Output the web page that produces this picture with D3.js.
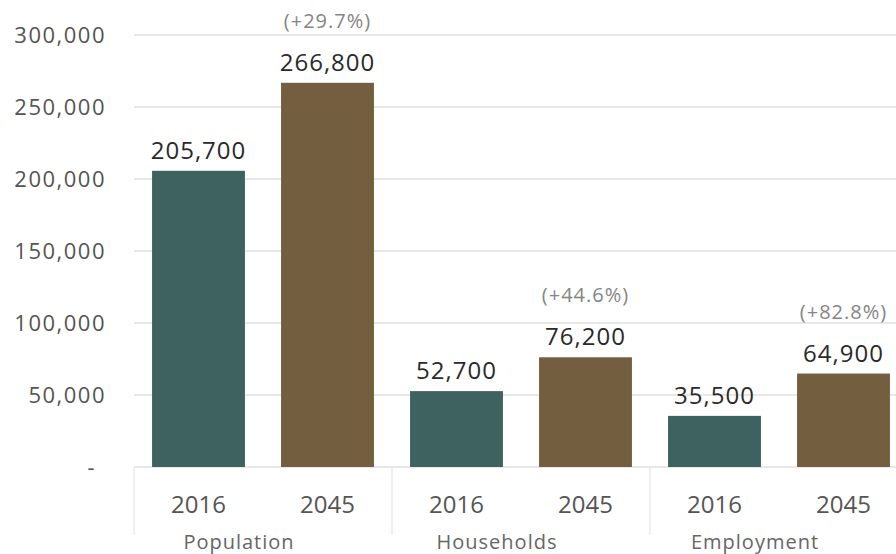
<!DOCTYPE html>
<html>
<head>
<meta charset="utf-8">
<script src="https://cdn.jsdelivr.net/npm/d3@7"></script>
<style>
  body { margin: 0; background: #fff; }
  text { font-family: "Open Sans", sans-serif; }
</style>
</head>
<body>
<div id="chart"></div>
<script>
// data
var categories = ["Population", "Households", "Employment"];
var years = ["2016", "2045"];
var values2016 = [205700, 52700, 35500];
var values2045 = [266800, 76200, 64900];
var changes = ["(+29.7%)", "(+44.6%)", "(+82.8%)"];
var yTicks = [0, 50000, 100000, 150000, 200000, 250000, 300000];

var W = 896, H = 554;
var left = 134, top0 = 35, bottom0 = 467;

var svg = d3.select("#chart").append("svg")
  .attr("width", W)
  .attr("height", H);

var y = d3.scaleLinear().domain([0, 300000]).range([bottom0, top0]);
var x0 = d3.scaleBand().domain(categories).range([left, left + 258 * 3]);
var x1 = d3.scaleBand().domain(years).range([0, x0.bandwidth()]).paddingInner(0.28).paddingOuter(0.14);
var color = d3.scaleOrdinal().domain(years).range(["#3d625f", "#735f3f"]);
var fmt = d3.format(",");

// gridlines
svg.append("g")
  .selectAll("line")
  .data(yTicks)
  .enter().append("line")
  .attr("x1", left).attr("x2", W)
  .attr("y1", d => y(d)).attr("y2", d => y(d))
  .style("stroke", "#e0e0e0")
  .style("stroke-width", 1.5);

// y labels
svg.append("g")
  .selectAll("text")
  .data(yTicks)
  .enter().append("text")
  .attr("x", d => d === 0 ? 96 : 106)
  .attr("y", d => y(d) + 8)
  .attr("text-anchor", "end")
  .style("font-size", "22px")
  .style("letter-spacing", "1.5px")
  .style("fill", "#555")
  .text(d => d === 0 ? "-" : fmt(d));

// group separators
svg.append("g")
  .selectAll("line")
  .data(categories)
  .enter().append("line")
  .attr("x1", d => x0(d)).attr("x2", d => x0(d))
  .attr("y1", bottom0).attr("y2", 535)
  .style("stroke", "#e6e6e6")
  .style("stroke-width", 1.2);

var rows = [];
categories.forEach(function(c, i) {
  rows.push({cat: c, year: "2016", value: values2016[i]});
  rows.push({cat: c, year: "2045", value: values2045[i], change: changes[i]});
});

var g = svg.append("g");
g.selectAll("rect")
  .data(rows)
  .enter().append("rect")
  .attr("x", d => x0(d.cat) + x1(d.year))
  .attr("width", x1.bandwidth())
  .attr("y", d => y(d.value))
  .attr("height", d => y(0) - y(d.value))
  .style("fill", d => color(d.year));

g.selectAll("text.val")
  .data(rows)
  .enter().append("text")
  .attr("class", "val")
  .attr("x", d => x0(d.cat) + x1(d.year) + x1.bandwidth() / 2)
  .attr("y", d => y(d.value) - 12)
  .attr("text-anchor", "middle")
  .style("font-size", "24px")
  .style("font-weight", 500)
  .style("letter-spacing", "1px")
  .style("fill", "#2a2a2a")
  .text(d => fmt(d.value));

g.selectAll("text.chg")
  .data(rows.filter(d => d.change))
  .enter().append("text")
  .attr("class", "chg")
  .attr("x", d => x0(d.cat) + x1(d.year) + x1.bandwidth() / 2)
  .attr("y", d => y(d.value) - 55)
  .attr("text-anchor", "middle")
  .style("font-size", "20px")
  .style("font-weight", 500)
  .style("letter-spacing", "1px")
  .style("fill", "#858585")
  .text(d => d.change);

// year labels
g.selectAll("text.yr")
  .data(rows)
  .enter().append("text")
  .attr("class", "yr")
  .attr("x", d => x0(d.cat) + x1(d.year) + x1.bandwidth() / 2)
  .attr("y", 513)
  .attr("text-anchor", "middle")
  .style("font-size", "24px")
  .style("fill", "#555")
  .text(d => d.year);

// category labels
svg.append("g")
  .selectAll("text")
  .data(categories)
  .enter().append("text")
  .attr("x", d => x0(d) + 105)
  .attr("y", 549)
  .attr("text-anchor", "middle")
  .style("font-size", "20px")
  .style("font-weight", 500)
  .style("fill", "#666")
  .style("letter-spacing", "1px")
  .text(d => d);
</script>
</body>
</html>
